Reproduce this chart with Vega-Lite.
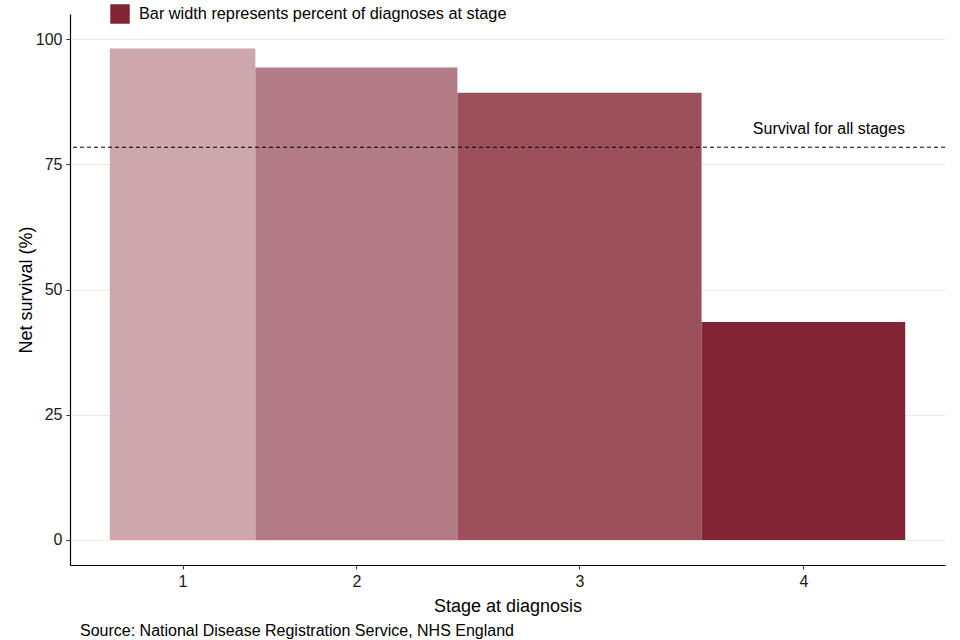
{
  "$schema": "https://vega.github.io/schema/vega-lite/v6.json",
  "autosize": {"type": "none"},
  "width": 875,
  "height": 551,
  "padding": {"left": 70, "top": 14, "right": 15, "bottom": 75},
  "background": "white",
  "config": {
    "font": "Liberation Sans",
    "view": {"stroke": null},
    "axis": {
      "labelFont": "Liberation Sans",
      "titleFont": "Liberation Sans",
      "labelColor": "#1a1a1a",
      "titleColor": "#000000",
      "titleFontWeight": "normal",
      "labelFontSize": 16,
      "titleFontSize": 18,
      "domainColor": "#000000",
      "domainWidth": 1.2,
      "tickColor": "#333333",
      "tickSize": 4
    }
  },
  "title": {
    "text": "Source: National Disease Registration Service, NHS England",
    "orient": "bottom",
    "anchor": "start",
    "frame": "group",
    "dx": 10,
    "offset": 8,
    "fontSize": 16,
    "fontWeight": "normal",
    "font": "Liberation Sans",
    "color": "#000000"
  },
  "datasets": {
    "stages": [
      {"stage": "1", "pct": 18.3, "survival": 98.1},
      {"stage": "2", "pct": 25.4, "survival": 94.3},
      {"stage": "3", "pct": 30.7, "survival": 89.3},
      {"stage": "4", "pct": 25.6, "survival": 43.5}
    ],
    "overall": [
      {"label": "Survival for all stages", "survival": 78.4, "x": 90.4}
    ]
  },
  "layer": [
    {
      "data": {"name": "stages"},
      "transform": [
        {"window": [{"op": "sum", "field": "pct", "as": "x1"}], "sort": [{"field": "stage"}], "frame": [null, 0]},
        {"calculate": "datum.x1 - datum.pct", "as": "x0"}
      ],
      "mark": {"type": "bar", "stroke": null},
      "encoding": {
        "x": {
          "field": "x0",
          "type": "quantitative",
          "scale": {"domain": [-5, 105], "nice": false, "zero": false},
          "title": "Stage at diagnosis",
          "axis": {
            "values": [9.15, 31.0, 59.05, 87.2],
            "labelExpr": "datum.value < 20 ? '1' : datum.value < 45 ? '2' : datum.value < 75 ? '3' : '4'",
            "grid": false,
            "labelPadding": 4,
            "titlePadding": 8
          }
        },
        "x2": {"field": "x1"},
        "y": {
          "field": "survival",
          "type": "quantitative",
          "scale": {"domain": [-5, 105], "nice": false, "zero": false},
          "title": "Net survival (%)",
          "axis": {
            "values": [0, 25, 50, 75, 100],
            "grid": true,
            "gridColor": "#ebebdc",
            "gridWidth": 1,
            "labelPadding": 4,
            "titlePadding": 0
          }
        },
        "y2": {"datum": 0},
        "color": {
          "field": "stage",
          "type": "nominal",
          "scale": {"domain": ["1", "2", "3", "4"], "range": ["#cea6ad", "#b37b85", "#9c505c", "#822433"]},
          "legend": {
            "values": ["4"],
            "labelExpr": "'Bar width represents percent of diagnoses at stage'",
            "title": null,
            "orient": "none",
            "legendX": 40,
            "legendY": -10,
            "padding": 0,
            "symbolType": "square",
            "symbolSize": 380,
            "symbolStrokeWidth": 0,
            "symbolOpacity": 1,
            "labelFontSize": 16.3,
            "labelFont": "Liberation Sans",
            "labelColor": "#000000",
            "labelOffset": 9,
            "labelLimit": 0
          }
        }
      }
    },
    {
      "data": {"name": "overall"},
      "mark": {"type": "rule", "strokeDash": [4, 3], "color": "#000000", "strokeWidth": 1},
      "encoding": {
        "y": {"field": "survival", "type": "quantitative"}
      }
    },
    {
      "data": {"name": "overall"},
      "mark": {"type": "text", "fontSize": 16, "font": "Liberation Sans", "color": "#000000", "align": "center", "dy": -18},
      "encoding": {
        "x": {"field": "x", "type": "quantitative"},
        "y": {"field": "survival", "type": "quantitative"},
        "text": {"field": "label"}
      }
    }
  ]
}
